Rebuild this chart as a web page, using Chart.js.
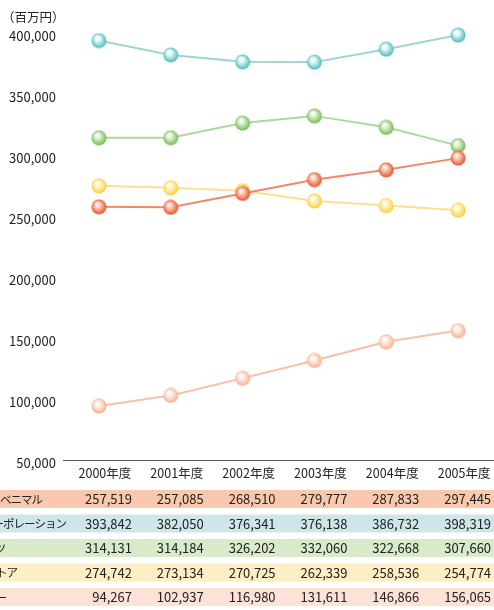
<!DOCTYPE html>
<html><head><meta charset="utf-8">
<script src="https://cdn.jsdelivr.net/npm/chart.js@4"></script>
<style>html,body{margin:0;padding:0;background:#fff;}#wrap{width:494px;height:610px;}</style>
</head><body><div id="wrap"><canvas id="c" width="494" height="610"></canvas></div>
<script>
// ---- data ----
const categories = ['2000年度','2001年度','2002年度','2003年度','2004年度','2005年度'];
const seriesNames = ['ヨークベニマル','ライフコーポレーション','マルエツ','東急ストア','ヤオコー'];
const yorkBenimaru = [257519, 257085, 268510, 279777, 287833, 297445];
const lifeCorp     = [393842, 382050, 376341, 376138, 386732, 398319];
const maruetsu     = [314131, 314184, 326202, 332060, 322668, 307660];
const tokyuStore   = [274742, 273134, 270725, 262339, 258536, 254774];
const yaoko        = [94267, 102937, 116980, 131611, 146866, 156065];
const yTickValues  = [50000, 100000, 150000, 200000, 250000, 300000, 350000, 400000];
const unitLabel = '（百万円）';

// ---- styles ----
const FONT = '"Noto Sans CJK JP", "Noto Sans", sans-serif';
const lineColors = ['#f0896a', '#9dd5d5', '#acd99c', '#fbe190', '#f9c0aa'];
const sphereColors = [
  ['#fbd3c2', '#f07a58', '#dc4a2c'],
  ['#e6f7f7', '#7ccfcf', '#47b3b3'],
  ['#e4f3da', '#98cf7c', '#62b448'],
  ['#fff6d2', '#fdde6c', '#f2c22a'],
  ['#fff0ea', '#fcc6ae', '#f3a283']
];
const rowColors = ['#f9c8ad', '#cfe6e8', '#d9eacb', '#fdeec4', '#fde2d8'];
const labelEnds = [43, 67, 6, 18, 7];

function sphere(cols) {
  const c = document.createElement('canvas');
  c.width = 16; c.height = 16;
  const g = c.getContext('2d');
  const grad = g.createRadialGradient(6, 5, 0.3, 8, 8, 8);
  grad.addColorStop(0, '#ffffff');
  grad.addColorStop(0.3, cols[0]);
  grad.addColorStop(0.75, cols[1]);
  grad.addColorStop(1, cols[2]);
  g.fillStyle = grad;
  g.beginPath(); g.arc(8, 8, 7.5, 0, Math.PI * 2); g.fill();
  return c;
}

const seriesData = [yorkBenimaru, lifeCorp, maruetsu, tokyuStore, yaoko];
const datasets = seriesData.map((d, i) => ({
  label: seriesNames[i],
  data: d,
  borderColor: lineColors[i],
  borderWidth: 2,
  pointStyle: sphere(sphereColors[i]),
  pointRadius: 8,
  tension: 0,
  fill: false,
  clip: false
}));

const tablePlugin = {
  id: 'tablePlugin',
  afterDraw(chart) {
    const ctx = chart.ctx;
    const xs = chart.scales.x;
    ctx.save();
    // unit label
    ctx.font = '12.5px ' + FONT;
    ctx.fillStyle = '#222';
    ctx.textBaseline = 'middle';
    ctx.textAlign = 'left';
    ctx.fillText(unitLabel, 2, 17);
    // table
    const top0 = 490, step = 24.5, h = 18;
    seriesData.forEach((d, r) => {
      const top = top0 + r * step;
      ctx.fillStyle = rowColors[r];
      ctx.fillRect(0, top, chart.width, h);
      ctx.fillStyle = '#222';
      ctx.font = '11.5px ' + FONT;
      ctx.textAlign = 'right';
      ctx.textBaseline = 'middle';
      ctx.letterSpacing = '-1px';
      ctx.fillText(seriesNames[r], labelEnds[r] - 1, top + h / 2 + 0.5);
      ctx.letterSpacing = '0px';
      ctx.font = '13px ' + FONT;
      d.forEach((v, i) => {
        ctx.fillText(v.toLocaleString('en-US'), xs.getPixelForValue(i) + 33, top + h / 2 + 0.5);
      });
    });
    ctx.restore();
  }
};

Chart.defaults.font.family = FONT;
new Chart(document.getElementById('c'), {
  type: 'line',
  data: { labels: categories, datasets },
  options: {
    responsive: false,
    animation: false,
    events: [],
    layout: { autoPadding: false, padding: { top: 33, right: 0, left: 0, bottom: 0 } },
    plugins: { legend: { display: false }, tooltip: { enabled: false } },
    scales: {
      x: {
        offset: true,
        grid: { display: false, drawTicks: false },
        border: { display: true, color: '#555', width: 1 },
        ticks: { color: '#222', font: { size: 12.5 }, padding: 6, labelOffset: 6, autoSkip: false, maxRotation: 0 },
        afterFit(s) { s.height = 150; s.paddingLeft = 0; s.paddingRight = 0; }
      },
      y: {
        min: 50000, max: 400000,
        grid: { display: false, drawTicks: false },
        border: { display: false },
        afterBuildTicks(s) { s.ticks = yTickValues.map(v => ({ value: v })); },
        ticks: { color: '#222', font: { size: 13 }, padding: 7, labelOffset: 3,
          callback: v => v.toLocaleString('en-US') },
        afterFit(s) { s.width = 63; s.paddingTop = 0; s.paddingBottom = 0; }
      }
    }
  },
  plugins: [tablePlugin]
});
</script></body></html>
